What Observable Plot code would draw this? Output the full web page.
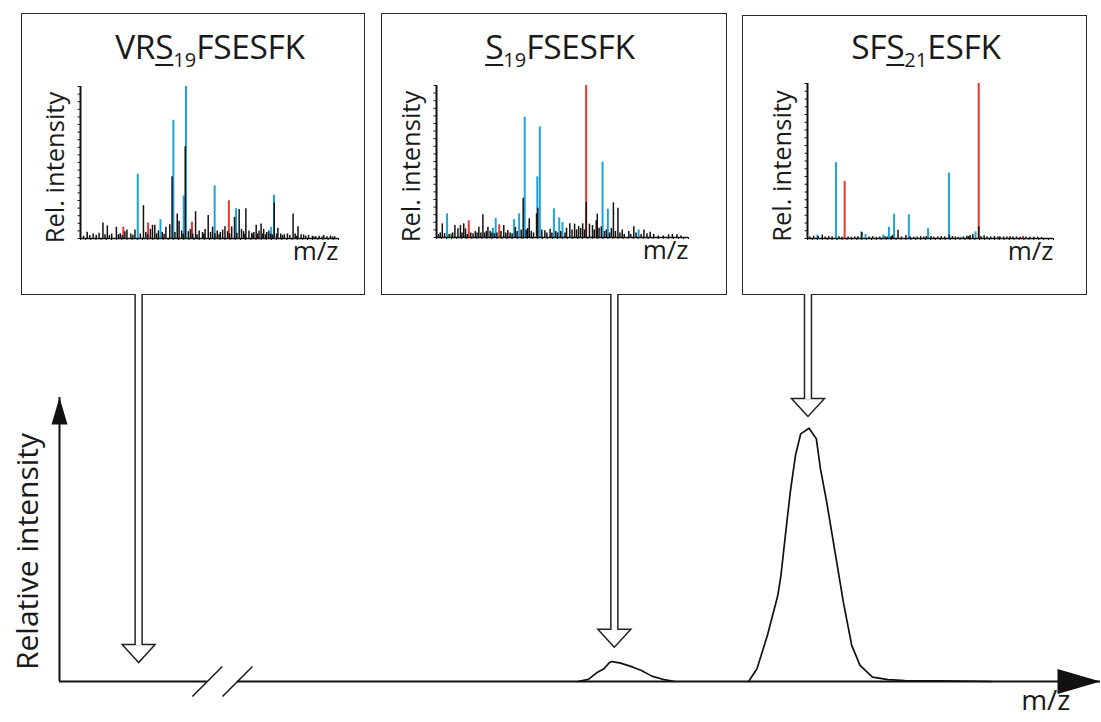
<!DOCTYPE html>
<html><head><meta charset="utf-8">
<script src="https://cdn.jsdelivr.net/npm/d3@7"></script>
<script src="https://cdn.jsdelivr.net/npm/@observablehq/plot@0.6"></script>
<style>
html,body{margin:0;padding:0;background:#fff;}
#root{position:relative;width:1101px;height:722px;font-family:"Open Sans",sans-serif;color:#1a1a1a;overflow:hidden}
.box{position:absolute;border:1.6px solid #2a2a2a;box-sizing:border-box;background:#fff}
.title{position:absolute;width:340px;text-align:center;font-size:33.5px;line-height:32px;white-space:nowrap;letter-spacing:-0.3px}
.title .site{text-decoration:underline;text-decoration-thickness:2px;text-underline-offset:5px}
.title .pos{font-size:20px;position:relative;top:8px;letter-spacing:0}
.abs{position:absolute}
</style></head><body><div id="root"></div>
<script>
// ---------- DATA ----------
// Peptide titles (underlined site + position subscript)
const titlePre  = ["VR", "", "SF"];
const titleSite = ["S", "S", "S"];
const titlePos  = ["19", "19", "21"];
const titlePost = ["FSESFK", "FSESFK", "ESFK"];

// Chromatogram (x: arbitrary m/z axis units, y: relative intensity)
const chromSmallX = [49.8,50.8,51.6,52.3,52.8,53.1,53.9,55.1,55.9,56.9,58.1,59.1];
const chromSmallY = [0,0.8,3.4,5.0,7.3,7.8,7.2,5.6,4.3,2.1,0.7,0];
const chromBigX = [66.2,67.0,68.0,69.0,69.3,69.8,70.2,70.7,71.2,72.0,72.7,73.1,73.7,74.5,75.3,76.1,76.9,78.1,79.6,81.2,84.6,89.5];
const chromBigY = [0,5.0,18.0,33.6,41.4,59.7,74.0,88.4,96.8,99.0,94.9,83.1,70.1,50.6,31.0,14.1,6.3,1.7,0.7,0.4,0.3,0];

// Pointer arrows from each spectrum to its chromatogram position
const arrowX   = [7.6, 53.3, 71.9];
const arrowTip = [7.4, 13.4, 103.6];
const arrowTop = 150.9;
// Axis break positions on the m/z axis
const breakX = [14.2, 17.1];

// MS/MS spectra: [m/z (relative), intensity (%)]
const spec1Blue = [[22.2,42.3],[31,12.4],[36,77.8],[40,28],[40.9,100],[52,34.6],[60.3,19.6],[73.9,7.4],[75,28.5]];
const spec1Red  = [[16.6,7.4],[26.2,10.2],[43.2,10.7],[57.5,24.8]];
const spec1Black = [[1.2,1.5],[2.6,4.1],[3.6,2],[4.9,3],[6.1,2.2],[7.2,3.5],[8.7,10.2],[9.5,2.5],[10.4,8.3],[11.2,2],[12.1,3],[13.9,7.4],[14.7,2.5],[15.4,3.2],[16.2,2],[17.2,4.5],[18,5.6],[19.5,3],[20.3,2.2],[21.1,5.6],[23.2,3],[24.4,21.6],[25.3,4],[26,2.5],[27.1,6],[27.9,8.7],[28.8,8.7],[29.5,3],[30.2,5],[31.7,4],[32.4,2.8],[33.1,7.4],[34.6,9],[35.5,40.7],[36.6,4],[37.5,16.1],[38.2,11.3],[39.2,5],[39.8,3],[40.6,60.3],[41.8,4.5],[42.6,6],[43.5,3],[44.6,17.6],[45.2,2.5],[46,5],[47.3,4],[47.8,3],[48.3,6],[49.5,15.2],[50.4,4],[51.2,7.4],[52.1,3.2],[53,5],[53.7,2.5],[54.2,4],[55.1,5.5],[56,7.8],[57,4.5],[57.8,3],[58.6,7.6],[59.7,13.9],[60.6,3.5],[61.5,19],[62.4,6],[63.2,4.5],[63.7,2.8],[64.1,19.6],[65.3,5],[66.4,3.5],[66.8,2.5],[67.2,4],[68.1,8.7],[68.7,3],[69.2,5],[70,9.6],[70.6,3],[71,6],[71.7,2.5],[72.2,4],[73,5],[73.6,3],[74.3,2.5],[75.1,23.3],[76,3],[76.5,6.8],[77.6,3],[78.3,2],[79,2.5],[80.2,3],[81.1,2],[82.4,16.1],[83.2,3],[83.8,1.5],[84.3,7.8],[85.5,2.5],[86.5,2.4],[87.3,1.5],[88.4,2],[89.9,1.5],[90.5,1],[91.2,1.2],[92.5,1.5],[93.6,1],[94.3,2],[95.5,1.2],[96.9,1.7],[97.7,1],[98.5,1.2]];

const spec2Blue = [[4.2,15.6],[22.4,6.1],[23.5,12.5],[30.8,11.8],[32.8,15.6],[35,79.2],[40,39.9],[41,72.8],[46.6,18.9],[48.7,12.9],[50,9.9],[65.9,49.6],[68,18.6],[80.2,5]];
const spec2Red  = [[12.8,11],[24.9,8.3],[59.4,100]];
const spec2Green = [[5.8,2.3]];
const spec2Black = [[0.8,2],[1.5,3],[2.3,9],[3.2,2.5],[5,2],[6.4,3],[7.3,7.9],[8.5,5.7],[9.5,7.9],[10.1,3],[10.8,9],[11.5,5.7],[12.2,2],[13.6,3],[14.5,2.5],[15.4,4],[16.1,3],[16.8,6.8],[17.6,3],[18.4,14.9],[19.1,3],[19.8,4],[20.4,6.8],[21.3,4],[22,3],[23,2.5],[24,3],[25.6,4],[26.7,7.9],[27.5,3],[28.3,4.6],[29.2,3],[30,2.5],[31.3,6.6],[32,4],[33.6,5],[34.4,25.9],[35.6,5],[36.2,6],[36.8,12.3],[37.6,4],[38.5,3],[39.7,15.6],[40.2,19.3],[41.8,5],[43,4.4],[43.8,3],[45.1,5.5],[45.8,3],[47.3,4],[48,3],[49.3,4],[51,3],[51.6,6.1],[52.9,9],[53.8,5],[54.8,8.8],[55.6,5],[56.4,7.2],[57.2,6],[58,9],[58.7,5],[59.4,23],[60.7,8.8],[61.9,7.9],[62.6,5],[63.4,11],[63.8,15.4],[64.5,6.1],[65.4,7],[66.7,4],[67.4,5],[68.7,3],[69.4,6],[70.2,22.8],[71,4],[72,19.3],[72.8,3],[73.7,5],[74.5,2],[76.3,3.9],[77.1,2],[78.3,7],[79.2,3],[81.2,2],[82.3,5],[83.5,2.4],[84.8,3.5],[86.2,2],[88,1],[90,1],[92.1,1.8],[93.6,2],[95.4,1.8],[97,1]];

const spec3Blue = [[4,2.2],[11.6,48.9],[21.9,4.3],[23.6,2.6],[30.8,2.2],[33.1,7.2],[35.2,15.7],[41.2,15.2],[49,6.3],[57.5,42.2],[62.3,0.9],[68.3,4.3]];
const spec3Red  = [[15.1,36.8],[69.6,100],[87.6,1.3]];
const spec3Black = [[1,1],[2.5,1.5],[4.4,1.3],[6,2.2],[7.2,1],[8.6,1.2],[10,1],[12.8,1.2],[14,0.8],[16.5,1],[17.8,0.8],[19.2,1],[20.5,1.2],[22.1,3.9],[25,1],[26.5,1.2],[28,0.8],[29.4,1],[31.5,1.2],[32.4,1],[34,1.3],[34.6,2],[36.8,5.4],[38.2,1],[40,2],[41.8,1],[43.2,0.8],[44.6,1],[46,1.2],[47.3,1],[48.3,1.2],[50.2,1.3],[51.4,0.8],[53,1],[54.4,1.2],[55.8,1],[57.7,2.2],[58.9,1.3],[60.1,1],[61.2,0.8],[63.4,1],[64.8,1.5],[65.5,1.2],[66.1,2],[67.2,2.4],[69.6,7.6],[70.5,1.3],[71.8,1.7],[73,1],[74.5,1],[76,1.3],[77.4,1],[78.2,1.2],[79.7,1],[81,1],[82.3,1.2],[83.5,1],[85,1],[86.4,0.8],[88.8,1],[90.4,0.8],[92,0.8],[93.6,0.8],[95.2,0.6]];

// ---------- LAYOUT ----------
const BLUE = "#1ca3de", RED = "#e8352f", GREEN = "#3aa64a", INK = "#1a1a1a";
const boxes  = [{l:21,t:13,r:365,b:295},{l:381,t:13,r:727,b:295},{l:742,t:15,r:1087,b:295}];
const frames = [{l:80,t:86,r:338,b:238},{l:436,t:85,r:688,b:237},{l:807,t:83,r:1053,b:238}];
const titleCenters = [210, 560, 926];
const spectra = [
  {blue: spec1Blue, red: spec1Red, green: [], black: spec1Black},
  {blue: spec2Blue, red: spec2Red, green: spec2Green, black: spec2Black},
  {blue: spec3Blue, red: spec3Red, green: [], black: spec3Black}
];

const root = document.getElementById("root");
const toObj = a => a.map(([mz, v]) => ({mz, v}));

spectra.forEach((s, i) => {
  const b = boxes[i], f = frames[i];
  const box = document.createElement("div");
  box.className = "box";
  Object.assign(box.style, {left: b.l+"px", top: b.t+"px", width: (b.r-b.l)+"px", height: (b.b-b.t)+"px"});
  root.appendChild(box);

  const t = document.createElement("div");
  t.className = "title";
  t.style.left = (titleCenters[i] - 170) + "px";
  t.style.top = "30px";
  t.innerHTML = `${titlePre[i]}<span class="site">${titleSite[i]}</span><span class="pos">${titlePos[i]}</span>${titlePost[i]}`;
  root.appendChild(t);

  const p = Plot.plot({
    width: b.r - b.l, height: b.b - b.t,
    marginLeft: f.l - b.l, marginRight: b.r - f.r, marginTop: f.t - b.t, marginBottom: b.b - f.b,
    x: {domain: [0, 100]}, y: {domain: [0, 100]},
    style: {background: "none", fontFamily: "Open Sans", color: INK},
    marks: [
      Plot.ruleX(toObj(s.blue), {x: "mz", y1: 0, y2: "v", stroke: BLUE, strokeWidth: 2}),
      Plot.ruleX(toObj(s.red), {x: "mz", y1: 0, y2: "v", stroke: RED, strokeWidth: 2}),
      Plot.ruleX(toObj(s.green), {x: "mz", y1: 0, y2: "v", stroke: GREEN, strokeWidth: 2}),
      Plot.ruleX(toObj(s.black), {x: "mz", y1: 0, y2: "v", stroke: "#111", strokeWidth: 1.5}),
      Plot.axisY({ticks: d3.range(0, 101, 5), tickSize: 2.5, tickFormat: () => "", label: null}),
      Plot.axisX({ticks: d3.range(0, 101, 2), tickSize: 2, tickFormat: () => "", label: null}),
      Plot.ruleX([0], {stroke: "#111", strokeWidth: 2}),
      Plot.ruleY([0], {stroke: "#111", strokeWidth: 1.5}),
      Plot.text(["Rel. intensity"], {text: d => d, frameAnchor: "left", textAnchor: "middle", rotate: -90, dx: -25, dy: 5, fontSize: 25.5, fill: INK}),
      Plot.text(["m/z"], {text: d => d, frameAnchor: "bottom-right", textAnchor: "end", dy: 21, fontSize: 26, fill: INK})
    ]
  });
  p.classList.add("abs");
  p.style.left = b.l + "px"; p.style.top = b.t + "px";
  root.appendChild(p);
});

// ---------- MAIN CHROMATOGRAM ----------
const chrom = [
  ...chromSmallX.map((x, i) => ({t: x, i: chromSmallY[i], peak: "a"})),
  ...chromBigX.map((x, i) => ({t: x, i: chromBigY[i], peak: "b"}))
];
const arrows = arrowX.map((x, i) => ({x, tip: arrowTip[i], top: arrowTop}));
const xSegments = [{from: 0, to: breakX[0]}, {from: breakX[1], to: 100}];

const headDown = {draw(ctx) { ctx.moveTo(0, 0); ctx.lineTo(-16.5, -18); ctx.lineTo(16.5, -18); ctx.closePath(); }};
const headUp   = {draw(ctx) { ctx.moveTo(0, 0); ctx.lineTo(8, 27); ctx.lineTo(-8, 27); ctx.closePath(); }};
const headRight= {draw(ctx) { ctx.moveTo(0, 0); ctx.lineTo(-43, -12.5); ctx.lineTo(-43, 12.5); ctx.closePath(); }};
const slash    = {draw(ctx) { ctx.moveTo(-15, 15); ctx.lineTo(15, -15); }};

const main = Plot.plot({
  width: 1101, height: 722,
  marginLeft: 59, marginRight: 1, marginTop: 397, marginBottom: 41,
  x: {domain: [0, 100], axis: null}, y: {domain: [0, 111], axis: null},
  style: {background: "none", fontFamily: "Open Sans", color: INK},
  marks: [
    Plot.ruleY(xSegments, {x1: "from", x2: "to", y: 0, stroke: "#111", strokeWidth: 2}),
    Plot.ruleX([0], {y1: 0, y2: 111, stroke: "#111", strokeWidth: 2}),
    Plot.dot([{x: 0, y: 111}], {x: "x", y: "y", symbol: headUp, fill: "#111", stroke: "none"}),
    Plot.dot([{x: 100, y: 0}], {x: "x", y: "y", symbol: headRight, fill: "#111", stroke: "none"}),
    Plot.dot(breakX, {x: d => d, y: () => 0, symbol: slash, fill: "none", stroke: "#111", strokeWidth: 1.4}),
    Plot.line(chrom, {x: "t", y: "i", z: "peak", stroke: "#111", strokeWidth: 1.7}),
    Plot.dot(arrows, {x: "x", y: "tip", symbol: headDown, fill: "white", stroke: "#222", strokeWidth: 1.5}),
    Plot.ruleX(arrows, {x: "x", y1: d => d.tip + 7.04, y2: "top", stroke: "#222", strokeWidth: 8.5}),
    Plot.ruleX(arrows, {x: "x", y1: d => d.tip + 6.5, y2: d => d.top + 1, stroke: "white", strokeWidth: 5.5}),
    Plot.text(["Relative intensity"], {text: d => d, frameAnchor: "left", textAnchor: "middle", rotate: -90, dx: -31, dy: 12, fontSize: 30, fill: INK}),
    Plot.text(["m/z"], {text: d => d, frameAnchor: "bottom-right", textAnchor: "end", dx: -30, dy: 28, fontSize: 28, fill: INK})
  ]
});
main.classList.add("abs");
main.style.left = "0px"; main.style.top = "0px";
root.appendChild(main);
</script></body></html>
